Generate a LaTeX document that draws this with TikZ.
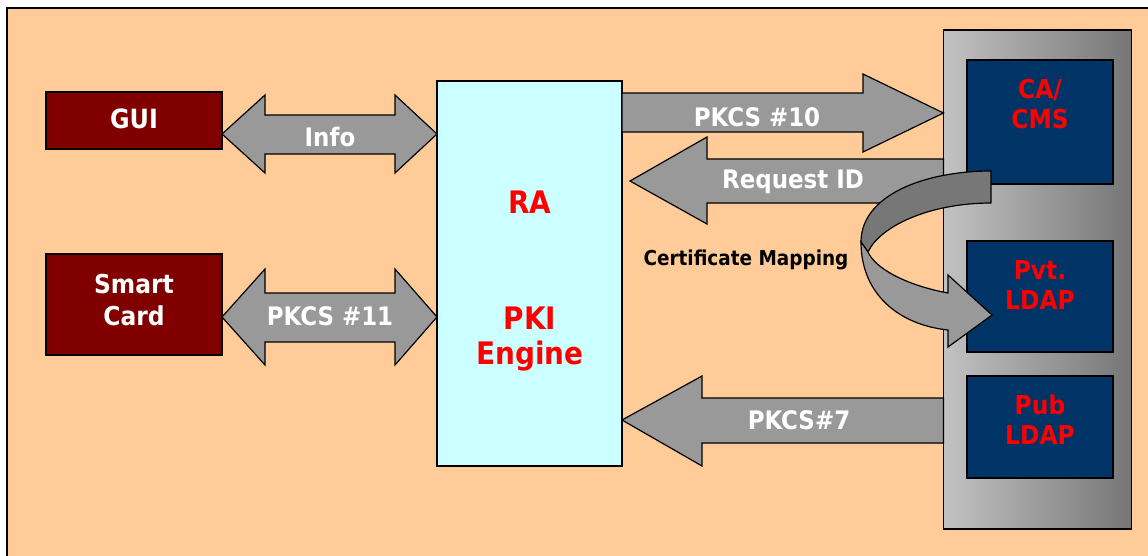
\documentclass[tikz,border=0pt]{standalone}
\usepackage{fontspec}
\setmainfont{DejaVu Sans Condensed}
\definecolor{bg}{HTML}{FFCC99}
\definecolor{maroonbox}{HTML}{800000}
\definecolor{navybox}{HTML}{003366}
\definecolor{cyanbox}{HTML}{CCFFFF}
\definecolor{arrowgray}{HTML}{999999}
\definecolor{backgray}{HTML}{777777}
\definecolor{coll}{HTML}{C2C2C2}
\definecolor{colr}{HTML}{767676}
\definecolor{redtext}{HTML}{FF0000}
\tikzset{
  boxnode/.style={draw=black, line width=1.5pt, inner sep=0pt, outer sep=0pt},
  blockarrow/.style={draw=black, line width=1.2pt, fill=arrowgray, line join=miter},
  whitelbl/.style={font=\bfseries\fontsize{25.5}{30}\selectfont, text=white, align=center, inner sep=0pt},
  redlbl/.style={font=\bfseries\fontsize{26}{30}\selectfont, text=redtext, align=center, inner sep=0pt},
}
\begin{document}
\begin{tikzpicture}[x=1pt,y=-1pt]
\useasboundingbox (0,0) rectangle (1148,555);
\clip (0,0) rectangle (1148,555);
\fill[white] (0,0) rectangle (1148,555);
\draw[line width=2pt, fill=bg] (7,8) rectangle (1170,580);

% boxes
\node[boxnode, fill=maroonbox, minimum width=176pt, minimum height=57pt] (gui) at (134,120.5) {};
\node[boxnode, fill=maroonbox, minimum width=176pt, minimum height=101pt] (card) at (134,304.5) {};
\node[boxnode, fill=cyanbox, minimum width=185pt, minimum height=385pt] (ra) at (529.5,273.5) {};
\node[boxnode, left color=coll, right color=colr, minimum width=188pt, minimum height=499pt] (col) at (1037.5,279.5) {};
\node[boxnode, fill=navybox, minimum width=146pt, minimum height=124pt] (ca) at (1040,122) {};
\node[boxnode, fill=navybox, minimum width=146pt, minimum height=111pt] (pvt) at (1040,296.5) {};
\node[boxnode, fill=navybox, minimum width=146pt, minimum height=102pt] (pub) at (1040,427) {};

% box labels
\node[whitelbl, font=\bfseries\fontsize{26.5}{31}\selectfont] (guit) at (134,119) {GUI};
\node[whitelbl, font=\bfseries\fontsize{26}{32}\selectfont] (cardt) at (134,300) {Smart\\Card};
\node[redlbl, font=\bfseries\fontsize{31}{36}\selectfont] (rat) at (530,202) {RA};
\node[redlbl, font=\bfseries\fontsize{31}{35}\selectfont] (pkit) at (530,339) {PKI\\Engine};
\node[redlbl] (cat) at (1040,104) {CA/\\CMS};
\node[redlbl] (pvtt) at (1040,285) {Pvt.\\LDAP};
\node[redlbl] (pubt) at (1040,420) {Pub\\LDAP};

% block arrows
\coordinate (infoL) at (gui.east |- 0,134);
\coordinate (infoR) at (ra.west |- 0,134);
\draw[blockarrow] (infoL) -- (265,95) -- (265,115) -- (395,115) -- (395,95) -- (infoR) -- (395,173) -- (395,154) -- (265,154) -- (265,173) -- cycle;
\node[whitelbl] (info) at (330,137) {Info};

\coordinate (p11L) at (card.east |- 0,317);
\coordinate (p11R) at (ra.west |- 0,317);
\draw[blockarrow] (p11L) -- (265,269) -- (265,293) -- (395,293) -- (395,269) -- (p11R) -- (395,365) -- (395,342) -- (265,342) -- (265,365) -- cycle;
\node[whitelbl] (p11) at (330,316) {PKCS \#11};

\coordinate (p10L) at (ra.east |- 0,113);
\coordinate (p10R) at (col.west |- 0,113);
\draw[blockarrow] (p10L |- 0,93) -- (863,93) -- (863,74) -- (p10R) -- (863,152) -- (863,132) -- (p10L |- 0,132) -- cycle;
\node[whitelbl] (p10) at (757,117) {PKCS \#10};

\coordinate (ridR) at (col.west |- 0,181);
\draw[blockarrow] (ridR |- 0,159) -- (707,159) -- (707,137) -- (630,181) -- (707,224) -- (707,203) -- (ridR |- 0,203) -- cycle;
\node[whitelbl] (rid) at (793,182) {Request ID};

\coordinate (p7L) at (ra.east |- 0,420);
\coordinate (p7R) at (col.west |- 0,420);
\draw[blockarrow] (p7R |- 0,398) -- (702,398) -- (702,376) -- (p7L) -- (702,466) -- (702,443) -- (p7R |- 0,443) -- cycle;
\node[whitelbl] (p7) at (799,420) {PKCS\#7};

% curved arrow (certificate mapping)
\draw[draw=black, line width=1.2pt, fill=backgray, line join=round]
  (991,171) .. controls (925,171) and (861,195) .. (861,242) -- (868,252)
  .. controls (880,226) and (930,203) .. (991,203) -- cycle;
\draw[blockarrow]
  (861,242) .. controls (861,295) and (900,325) .. (948,330) -- (948,347) -- (992,315)
  -- (948,275) -- (948,293) .. controls (905,285) and (875,268) .. (868,252) -- cycle;

\node[font=\bfseries\fontsize{20.5}{24}\selectfont, text=black, inner sep=0pt] (cm) at (746,260) {Certificate Mapping};
\end{tikzpicture}
\end{document}
